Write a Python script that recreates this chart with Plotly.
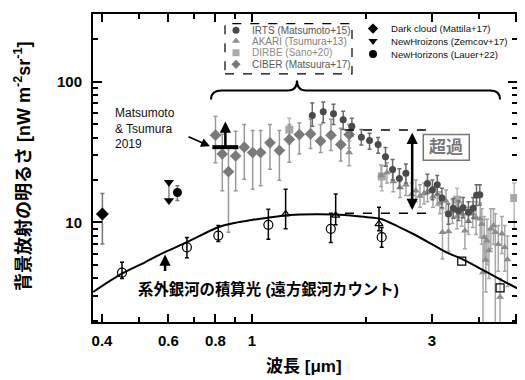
import math
import plotly.graph_objects as go

# ---------------- data ----------------
curve_x = [0.379, 0.45, 0.52, 0.58, 0.67, 0.81, 0.9, 1.0, 1.1, 1.26, 1.5, 1.76, 2.0, 2.19, 2.45, 2.67, 3.0, 3.29, 3.6, 4.03, 4.5, 5.05]
curve_y = [3.2, 4.3, 5.2, 6.05, 7.2, 9.2, 9.9, 10.4, 10.8, 11.3, 11.4, 11.3, 10.9, 10.6, 9.3, 8.3, 7.0, 6.1, 5.5, 4.7, 4.0, 3.4]

gal_x = [0.452, 0.672, 0.814, 1.105, 1.618, 2.208]
gal_y = [4.4, 6.65, 8.05, 9.6, 9.0, 7.85]
gal_hi = [5.2, 7.8, 9.5, 12.4, 11.6, 9.2]
gal_lo = [4.0, 5.6, 7.3, 7.6, 7.2, 6.65]

galtri_x = [1.228, 1.667, 2.172]
galtri_y = [11.45, 11.2, 9.75]
galtri_hi = [17.2, 15.9, 12.8]
galtri_lo = [9.0, 9.6, 8.7]

galsq_x = [3.6, 4.55]
galsq_y = [5.3, 3.43]

gal_limit_x = 0.588
gal_limit_y = 5.9

ciber_x = [0.80, 0.834, 0.866, 0.905, 0.954, 1.004, 1.054, 1.116, 1.182, 1.256, 1.335, 1.43, 1.52, 1.62, 1.72, 1.81]
ciber_y = [41.6, 30.6, 22.9, 29.6, 34.2, 31.3, 31.3, 36.7, 32.4, 38.8, 42.0, 42.5, 37.8, 41.6, 35.7, 42.0]
ciber_hi = [56.7, 42.2, 33.8, 44.4, 49.5, 45.0, 45.0, 49.5, 45.0, 49.5, 50.7, 54.1, 49.5, 54.1, 46.7, 49.5]
ciber_lo = [26.5, 16.8, 8.5, 16.8, 20.2, 17.2, 18.2, 23.8, 19.9, 26.7, 30.6, 33.4, 31.3, 32.4, 27.3, 33.8]

irts_x = [1.445, 1.545, 1.645, 1.745, 1.84, 1.95, 2.05, 2.16, 2.26, 2.36, 2.46, 2.56, 2.92, 3.01, 3.10, 3.19, 3.32, 3.42, 3.53, 3.63, 3.75, 3.86, 3.94, 4.02]
irts_y = [57.4, 61.0, 59.1, 53.5, 48.2, 40.3, 38.2, 35.7, 29.3, 23.7, 20.5, 22.3, 18.9, 17.0, 18.5, 14.9, 11.45, 12.6, 12.1, 12.7, 11.8, 12.6, 15.6, 15.7]
irts_hi = [70.4, 71.6, 69.0, 61.5, 55.0, 45.6, 43.0, 40.0, 34.0, 28.0, 24.0, 26.0, 22.0, 20.0, 21.5, 17.5, 13.5, 14.8, 14.2, 15.0, 14.0, 15.0, 18.5, 18.5]
irts_lo = [48.1, 50.9, 49.5, 45.6, 41.0, 35.4, 33.0, 31.0, 25.0, 20.0, 17.5, 19.0, 16.0, 14.5, 15.8, 12.7, 9.7, 10.7, 10.3, 10.8, 10.0, 10.7, 13.2, 13.3]

akari_x = [1.81, 2.20, 2.28, 2.37, 2.47, 2.56, 2.65, 2.72, 2.79, 2.86, 2.92, 3.02, 3.10, 3.15, 3.20, 3.27, 3.32, 3.40, 3.50, 3.60, 3.67, 3.75, 3.85, 3.93, 4.03, 4.07, 4.10, 4.13, 4.17, 4.20, 4.25, 4.30, 4.37, 4.42, 4.50, 4.55, 4.60, 4.68, 4.76]
akari_y = [31.3, 21.5, 22.6, 19.5, 17.7, 18.5, 15.8, 16.8, 15.4, 16.0, 16.5, 15.2, 15.8, 13.8, 8.5, 14.2, 8.6, 12.0, 11.0, 11.5, 8.7, 10.2, 11.5, 10.8, 10.6, 9.75, 4.4, 7.85, 5.4, 7.4, 6.3, 9.0, 9.5, 8.5, 7.0, 2.95, 8.3, 6.65, 5.45]
akari_hi = [37.8, 25.5, 26.5, 23.0, 21.0, 22.0, 19.0, 20.0, 18.5, 19.0, 19.5, 18.0, 18.8, 16.5, 12.5, 17.0, 12.0, 14.5, 13.5, 14.0, 11.5, 12.8, 14.0, 14.0, 13.8, 12.5, 7.0, 11.0, 8.0, 10.5, 9.0, 12.5, 12.5, 11.5, 9.5, 4.0, 11.0, 9.5, 8.0]
akari_lo = [25.2, 18.0, 19.0, 16.5, 15.0, 15.5, 13.0, 14.0, 12.8, 13.5, 14.0, 12.8, 13.2, 11.5, 5.5, 11.8, 6.2, 9.8, 9.0, 9.4, 6.5, 8.2, 9.2, 8.2, 7.8, 7.0, 1.5, 5.5, 3.2, 5.0, 4.0, 6.5, 7.0, 1.5, 4.5, 1.5, 6.0, 4.5, 3.5]

dirbe_x = [1.256, 2.21, 3.50, 4.96]
dirbe_y = [45.6, 21.2, 14.5, 14.9]
dirbe_hi = [55.0, 25.2, 17.5, 19.0]
dirbe_lo = [36.0, 16.8, 12.0, 9.0]

dark_x = [0.401]
dark_y = [11.45]
dark_hi = [16.0]
dark_lo = [7.03]

zemcov_x = [0.602, 0.602]
zemcov_y = [19.3, 14.3]

lauer_x = [0.634]
lauer_y = [16.3]
lauer_hi = [18.2]
lauer_lo = [14.3]

mt_x = [0.785, 0.92]
mt_y = 34.2
mt_arrow_top = 52.0

excess_x = [1.764, 2.90]
excess_top = 45.3
excess_bot = 11.6
excess_arrow_x = 2.66

x_ticks = [0.4, 0.6, 0.8, 1, 3, 5]
x_ticktext = ["0.4", "0.6", "0.8", "1", "3", "5"]
x_minor = [0.5, 0.7, 0.9, 2, 4]
y_ticks = [10, 100]
y_ticktext = ["10", "100"]
y_minor = [2, 3, 4, 5, 6, 7, 8, 9, 20, 30, 40, 50, 60, 70, 80, 90, 200, 300]

# ---------------- layout helpers ----------------
# screen-space plot frame (page body adds an 8px offset)
OFF = 8
L, R, T, B = 93, 517, 12, 322
W, H = 525 - OFF, 380 - OFF


def px(xp):
    return (xp - L) / (R - L)


def py(yp):
    return (B - yp) / (B - T)


def err(y, hi, lo, color):
    return dict(type="data", symmetric=False,
                array=[h - v for h, v in zip(hi, y)],
                arrayminus=[v - l for v, l in zip(y, lo)],
                color=color, thickness=1.5, width=2)


LAT = "Liberation Sans, Arial, sans-serif"
CJK = "Liberation Sans, Noto Sans CJK JP, sans-serif"

fig = go.Figure()

# DIRBE
fig.add_trace(go.Scatter(x=dirbe_x, y=dirbe_y, mode="markers",
                         marker=dict(symbol="square", size=8, color="#a8a8a8"),
                         error_y=err(dirbe_y, dirbe_hi, dirbe_lo, "#b8b8b8")))
# AKARI
fig.add_trace(go.Scatter(x=akari_x, y=akari_y, mode="markers",
                         marker=dict(symbol="triangle-up", size=7, color="#8c8c8c"),
                         error_y=err(akari_y, akari_hi, akari_lo, "#a8a8a8")))
# CIBER
fig.add_trace(go.Scatter(x=ciber_x, y=ciber_y, mode="markers",
                         marker=dict(symbol="diamond", size=9, color="#7a7a7a"),
                         error_y=err(ciber_y, ciber_hi, ciber_lo, "#9a9a9a")))
# IRTS
fig.add_trace(go.Scatter(x=irts_x, y=irts_y, mode="markers",
                         marker=dict(symbol="circle", size=7, color="#4a4a4a"),
                         error_y=err(irts_y, irts_hi, irts_lo, "#6a6a6a")))

# galaxy counts
fig.add_trace(go.Scatter(x=gal_x, y=gal_y, mode="markers",
                         marker=dict(symbol="circle-open", size=9, color="black", line=dict(width=1.2)),
                         error_y=err(gal_y, gal_hi, gal_lo, "black")))
fig.add_trace(go.Scatter(x=galtri_x, y=galtri_y, mode="markers",
                         marker=dict(symbol="triangle-up-open", size=7, color="black", line=dict(width=1.2)),
                         error_y=err(galtri_y, galtri_hi, galtri_lo, "black")))
fig.add_trace(go.Scatter(x=galsq_x, y=galsq_y, mode="markers",
                         marker=dict(symbol="square-open", size=8, color="black", line=dict(width=1.2))))

# curve
fig.add_trace(go.Scatter(x=curve_x, y=curve_y, mode="lines",
                         line=dict(color="black", width=2, shape="spline", smoothing=0.8)))

# dark cloud, NH
fig.add_trace(go.Scatter(x=dark_x, y=dark_y, mode="markers",
                         marker=dict(symbol="diamond", size=10, color="black"),
                         error_y=err(dark_y, dark_hi, dark_lo, "#777777")))
fig.add_trace(go.Scatter(x=zemcov_x, y=zemcov_y, mode="lines",
                         line=dict(color="#888888", width=1.5)))
fig.add_trace(go.Scatter(x=zemcov_x, y=zemcov_y, mode="markers",
                         marker=dict(symbol="triangle-down", size=9, color="black")))
fig.add_trace(go.Scatter(x=lauer_x, y=lauer_y, mode="markers",
                         marker=dict(symbol="circle", size=9, color="black"),
                         error_y=err(lauer_y, lauer_hi, lauer_lo, "#777777")))

# Matsumoto & Tsumura 2019 bar
fig.add_trace(go.Scatter(x=mt_x, y=[mt_y, mt_y], mode="lines",
                         line=dict(color="black", width=4)))

# excess dashed lines
for yy in (excess_top, excess_bot):
    fig.add_trace(go.Scatter(x=excess_x, y=[yy, yy], mode="lines",
                             line=dict(color="black", width=1.5, dash="dash")))

# legend swatches on overlay axes (paper-like)
leg_left = [("circle", "#4a4a4a", 28.3, "IRTS (Matsumoto+15)", "#555555"),
            ("triangle-up", "#8c8c8c", 39.3, "AKARI (Tsumura+13)", "#808080"),
            ("square", "#a8a8a8", 51.0, "DIRBE (Sano+20)", "#8c8c8c"),
            ("diamond", "#7a7a7a", 62.7, "CIBER (Matsuura+17)", "#5a5a5a")]
leg_right = [("diamond", "black", 26.7, "Dark cloud (Mattila+17)"),
             ("triangle-down", "black", 39.3, "NewHroizons (Zemcov+17)"),
             ("circle", "black", 52.3, "NewHorizons (Lauer+22)")]

annotations = []
for sym, col, yp, txt, tcol in leg_left:
    fig.add_trace(go.Scatter(x=[px(236)], y=[py(yp)], xaxis="x2", yaxis="y2", mode="markers",
                             marker=dict(symbol=sym, size=7, color=col)))
    annotations.append(dict(x=px(250), y=py(yp), xref="paper", yref="paper", text=txt,
                            showarrow=False, xanchor="left", yanchor="middle",
                            font=dict(family=LAT, size=10, color=tcol)))
for sym, col, yp, txt in leg_right:
    fig.add_trace(go.Scatter(x=[px(373)], y=[py(yp)], xaxis="x2", yaxis="y2", mode="markers",
                             marker=dict(symbol=sym, size=8, color=col)))
    annotations.append(dict(x=px(389), y=py(yp), xref="paper", yref="paper", text=txt,
                            showarrow=False, xanchor="left", yanchor="middle",
                            font=dict(family=LAT, size=9.6, color="#111111")))

# last x tick label at the very edge of the axis, drawn as text on the overlay axes
fig.add_trace(go.Scatter(x=[px(515.5)], y=[py(342)], xaxis="x2", yaxis="y2", mode="text",
                         text=["<b>" + x_ticktext[-1] + "</b>"], textposition="middle center",
                         cliponaxis=False,
                         textfont=dict(family=LAT, size=15, color="black")))
x_ticktext_axis = x_ticktext[:-1] + [""]

lg = math.log10
# arrows in data coordinates
annotations.append(dict(x=lg(gal_limit_x), y=lg(gal_limit_y), xref="x", yref="y", text="",
                        showarrow=True, ax=0, ay=18, arrowhead=2, arrowsize=0.9, arrowwidth=2.5,
                        arrowcolor="black"))
annotations.append(dict(x=lg((mt_x[0] * mt_x[1]) ** 0.5), y=lg(mt_arrow_top), xref="x", yref="y", text="",
                        showarrow=True, ax=0, ay=26, arrowhead=2, arrowsize=0.9, arrowwidth=2.5,
                        arrowcolor="black"))
annotations.append(dict(x=lg(excess_arrow_x), y=lg(excess_top) - 0.02, xref="x", yref="y", text="",
                        showarrow=True, axref="x", ayref="y", ax=lg(excess_arrow_x), ay=lg(excess_bot) + 0.012,
                        arrowhead=2, startarrowhead=2, arrowside="end+start", arrowsize=0.9,
                        startarrowsize=0.9, arrowwidth=2.5, arrowcolor="black"))
# pointer from text to bar
annotations.append(dict(x=px(210), y=py(145), xref="paper", yref="paper", text="",
                        showarrow=True, ax=-23, ay=-10, arrowhead=2, arrowsize=1.2, arrowwidth=1.5,
                        arrowcolor="black"))

# texts
annotations.append(dict(x=px(113), y=py(127), xref="paper", yref="paper",
                        text="Matsumoto<br>& Tsumura<br>2019", showarrow=False, align="left",
                        xanchor="left", yanchor="middle",
                        font=dict(family=LAT, size=12, color="#111111")))
annotations.append(dict(x=px(446.3), y=py(146.3), xref="paper", yref="paper", text="<b>超過</b>",
                        showarrow=False, xanchor="center", yanchor="middle",
                        font=dict(family=CJK, size=17, color="#777777")))
annotations.append(dict(x=px(136), y=py(288.3), xref="paper", yref="paper",
                        text="<b>系外銀河の積算光 (遠方銀河カウント)</b>", showarrow=False,
                        xanchor="left", yanchor="middle",
                        font=dict(family=CJK, size=15.4, color="black")))
annotations.append(dict(x=px(304), y=py(366), xref="paper", yref="paper",
                        text="<b>波長 [μm]</b>", showarrow=False, xanchor="center", yanchor="middle",
                        font=dict(family=CJK, size=17, color="black")))
annotations.append(dict(x=px(22), y=py(166), xref="paper", yref="paper",
                        text="<b>背景放射の明るさ [nW m<sup>-2</sup>sr<sup>-1</sup>]</b>",
                        showarrow=False, textangle=-90, xanchor="center", yanchor="middle",
                        font=dict(family=CJK, size=18, color="black")))


def brace_path():
    X = lambda v: f"{px(v):.4f}"
    Y = lambda v: f"{py(v):.4f}"
    return (f"M {X(211)},{Y(98)} Q {X(211)},{Y(89)} {X(222)},{Y(89)} "
            f"L {X(288)},{Y(89)} Q {X(297)},{Y(89)} {X(297)},{Y(79)} "
            f"Q {X(297)},{Y(89)} {X(306)},{Y(89)} L {X(490)},{Y(89)} "
            f"Q {X(500)},{Y(89)} {X(500)},{Y(98)}")


shapes = [
    dict(type="path", path=brace_path(), xref="paper", yref="paper",
         line=dict(color="black", width=2)),
    dict(type="rect", xref="paper", yref="paper", x0=px(225), x1=px(352), y0=py(72.3), y1=py(21.7),
         line=dict(color="black", width=1.2, dash="dash")),
    dict(type="rect", xref="paper", yref="paper", x0=px(423.3), x1=px(469.3), y0=py(159.3), y1=py(133.3),
         line=dict(color="#777777", width=1.5)),
]

tickfont = dict(family=LAT, size=15, color="black", weight="bold")
common = dict(type="log", showgrid=False, zeroline=False, showline=True, linewidth=2, linecolor="black",
              mirror="ticks", ticks="inside", tickwidth=1.5, tickcolor="black", tickfont=tickfont,
              ticklabeloverflow="allow")

fig.update_layout(
    width=W, height=H, showlegend=False,
    margin=dict(l=L - OFF, r=W - (R - OFF), t=T - OFF, b=H - (B - OFF)),
    paper_bgcolor="white", plot_bgcolor="white",
    xaxis=dict(range=[-0.4218, 0.7029], tickvals=x_ticks, ticktext=x_ticktext_axis, ticklen=8,
               ticklabelstandoff=4,
               minor=dict(tickvals=x_minor, ticks="inside", ticklen=5, tickwidth=1.5,
                          tickcolor="black", showgrid=False), **common),
    yaxis=dict(range=[0.2922, 2.480], tickvals=y_ticks, ticktext=y_ticktext, ticklen=9,
               ticklabelstandoff=6,
               minor=dict(tickvals=y_minor, ticks="inside", ticklen=5, tickwidth=1.5,
                          tickcolor="black", showgrid=False), **common),
    xaxis2=dict(overlaying="x", range=[0, 1], visible=False),
    yaxis2=dict(overlaying="y", range=[0, 1], visible=False),
    annotations=annotations, shapes=shapes,
)

fig.write_html("out.html", config={"displayModeBar": False})
